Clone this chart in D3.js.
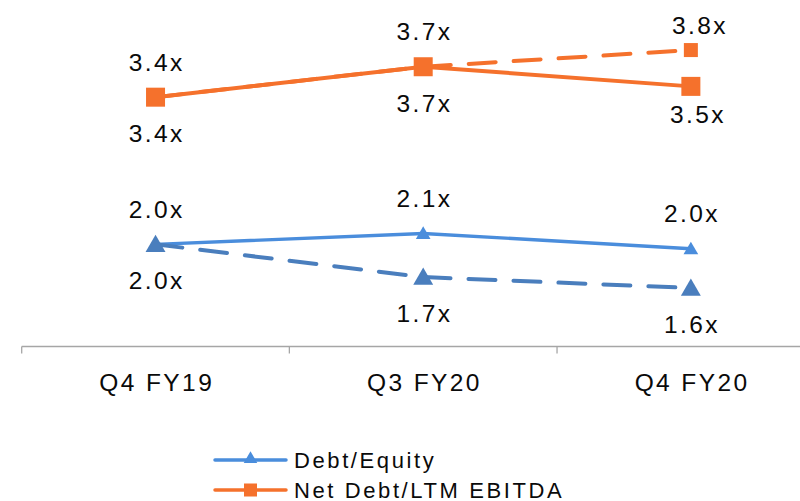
<!DOCTYPE html>
<html>
<head>
<meta charset="utf-8">
<script src="https://cdn.jsdelivr.net/npm/d3@7"></script>
<style>
  html, body { margin: 0; padding: 0; background: #fff; }
  svg { display: block; font-family: "Liberation Sans", Arial, sans-serif; }
</style>
</head>
<body>
<svg id="chart" width="800" height="501"></svg>
<script>
// Leverage ratios by quarter
const categories = ["Q4 FY19", "Q3 FY20", "Q4 FY20"];

// Net Debt / LTM EBITDA (solid = reported, dashed = alternate basis)
const netDebtEbitda = [3.36, 3.67, 3.47];
const netDebtEbitdaAlt = [3.36, 3.67, 3.84];

// Debt / Equity (solid = reported, dashed = alternate basis)
const debtEquity = [2.0, 2.1, 1.96];
const debtEquityAlt = [2.0, 1.7, 1.6];

const legendLabels = ["Debt/Equity", "Net Debt/LTM EBITDA"];

const W = 800, H = 501;
const axisY = 346.5;
const orange = "#F5712C";
const blueLight = "#4A8DDC";
const blueDark = "#4A7EBD";
const LS = 2.4; // letter spacing used by all text
const textColor = "#0a0a0a";

const svg = d3.select("#chart");

const x = d3.scaleBand().domain(categories).range([21.7, 824.7]).padding(0);
const cx = c => x(c) + x.bandwidth() / 2;

// The two ratio families sit on separate (hidden) value axes
const yRatio = d3.scaleLinear().domain([0.82, 4.35]).range([axisY, 0]);
const yDE = d3.scaleLinear().domain([1.064, 4.239]).range([axisY, 0]);

const fmt = v => d3.format(".1f")(v) + "x";

const series = [
  { values: debtEquity,       y: yDE,    color: blueLight, dash: null,    width: 3.4, marker: "triangle", size: 14, label: "above" },
  { values: debtEquityAlt,    y: yDE,    color: blueDark,  dash: "27,18", width: 4,   marker: "triangle", size: 19, label: "below" },
  { values: netDebtEbitdaAlt, y: yRatio, color: orange,    dash: "27,18", width: 4,   marker: "square",   size: 14, label: "above" },
  { values: netDebtEbitda,    y: yRatio, color: orange,    dash: null,    width: 4,   marker: "square",   size: 19, label: "below" }
];

// Category axis: baseline with boundary ticks, labels centred in each band
const axisG = svg.append("g");
axisG.append("line")
  .attr("x1", x.range()[0]).attr("x2", W)
  .attr("y1", axisY).attr("y2", axisY)
  .attr("stroke", "#A6A6A6").attr("stroke-width", 1.3);
axisG.selectAll("line.tick")
  .data(categories)
  .join("line")
  .attr("class", "tick")
  .attr("x1", d => x(d)).attr("x2", d => x(d))
  .attr("y1", axisY).attr("y2", axisY + 7)
  .attr("stroke", "#A6A6A6").attr("stroke-width", 1.3);

const xAxis = d3.axisBottom(x).tickSize(0).tickPadding(0);
const axisLabels = svg.append("g")
  .attr("transform", `translate(0,${axisY})`)
  .call(xAxis);
axisLabels.select(".domain").remove();
axisLabels.selectAll("text")
  .attr("y", 0).attr("dy", 0)
  .attr("transform", `translate(${LS / 2},44)`)
  .style("font-size", "24.5px")
  .style("letter-spacing", LS + "px")
  .attr("fill", textColor);

// Lines
const plot = svg.append("g");
series.forEach(s => {
  const line = d3.line()
    .x((d, i) => cx(categories[i]))
    .y(d => s.y(d));
  plot.append("path")
    .datum(s.values)
    .attr("d", line)
    .attr("fill", "none")
    .attr("stroke", s.color)
    .attr("stroke-width", s.width)
    .attr("stroke-linecap", s.dash ? "round" : "butt")
    .attr("stroke-dasharray", s.dash);
});

// Markers
const triangle = d3.symbol().type(d3.symbolTriangle);
series.forEach(s => {
  const g = plot.append("g");
  if (s.marker === "square") {
    g.selectAll("rect")
      .data(s.values)
      .join("rect")
      .attr("x", (d, i) => cx(categories[i]) - s.size / 2)
      .attr("y", d => s.y(d) - s.size / 2)
      .attr("width", s.size).attr("height", s.size)
      .attr("fill", s.color);
  } else {
    const area = s.size * s.size * Math.sqrt(3) / 4 * 1.1;
    g.selectAll("path")
      .data(s.values)
      .join("path")
      .attr("d", triangle.size(area))
      .attr("transform", (d, i) => `translate(${cx(categories[i])},${s.y(d) + s.size * 0.1})`)
      .attr("fill", s.color);
  }
});

// Value labels: above or below each point
const nudge = {
  "2-2": { dx: 8, dy: 10 },   // 3.8x sits closer to its marker
  "3-2": { dx: 6, dy: -8 }    // 3.5x likewise
};
series.forEach((s, si) => {
  svg.append("g").selectAll("text")
    .data(s.values)
    .join("text")
    .attr("x", (d, i) => cx(categories[i]) + LS / 2 + ((nudge[si + "-" + i] || {}).dx || 0))
    .attr("y", (d, i) => s.y(d) + (s.label === "above" ? -26.5 : 45) + ((nudge[si + "-" + i] || {}).dy || 0))
    .attr("text-anchor", "middle")
    .style("font-size", "24.5px")
    .style("letter-spacing", LS + "px")
    .attr("fill", textColor)
    .text(d => fmt(d));
});

// Legend
const legendItems = [
  { label: legendLabels[0], color: blueLight, marker: "triangle" },
  { label: legendLabels[1], color: orange, marker: "square" }
];
const legend = svg.append("g");
legendItems.forEach((item, i) => {
  const ly = 460 + i * 30;
  const g = legend.append("g").attr("transform", `translate(0,${ly})`);
  g.append("line")
    .attr("x1", 215).attr("x2", 286)
    .attr("stroke", item.color).attr("stroke-width", 3.5)
    .attr("stroke-linecap", "round");
  if (item.marker === "square") {
    g.append("rect").attr("x", 244).attr("y", -6.5).attr("width", 13).attr("height", 13).attr("fill", item.color);
  } else {
    g.append("path").attr("d", triangle.size(80)).attr("transform", "translate(250.5,-1)").attr("fill", item.color);
  }
  g.append("text")
    .attr("x", 294).attr("y", 8)
    .style("font-size", "22px")
    .style("letter-spacing", "2.6px")
    .attr("fill", textColor)
    .text(item.label);
});
</script>
</body>
</html>
